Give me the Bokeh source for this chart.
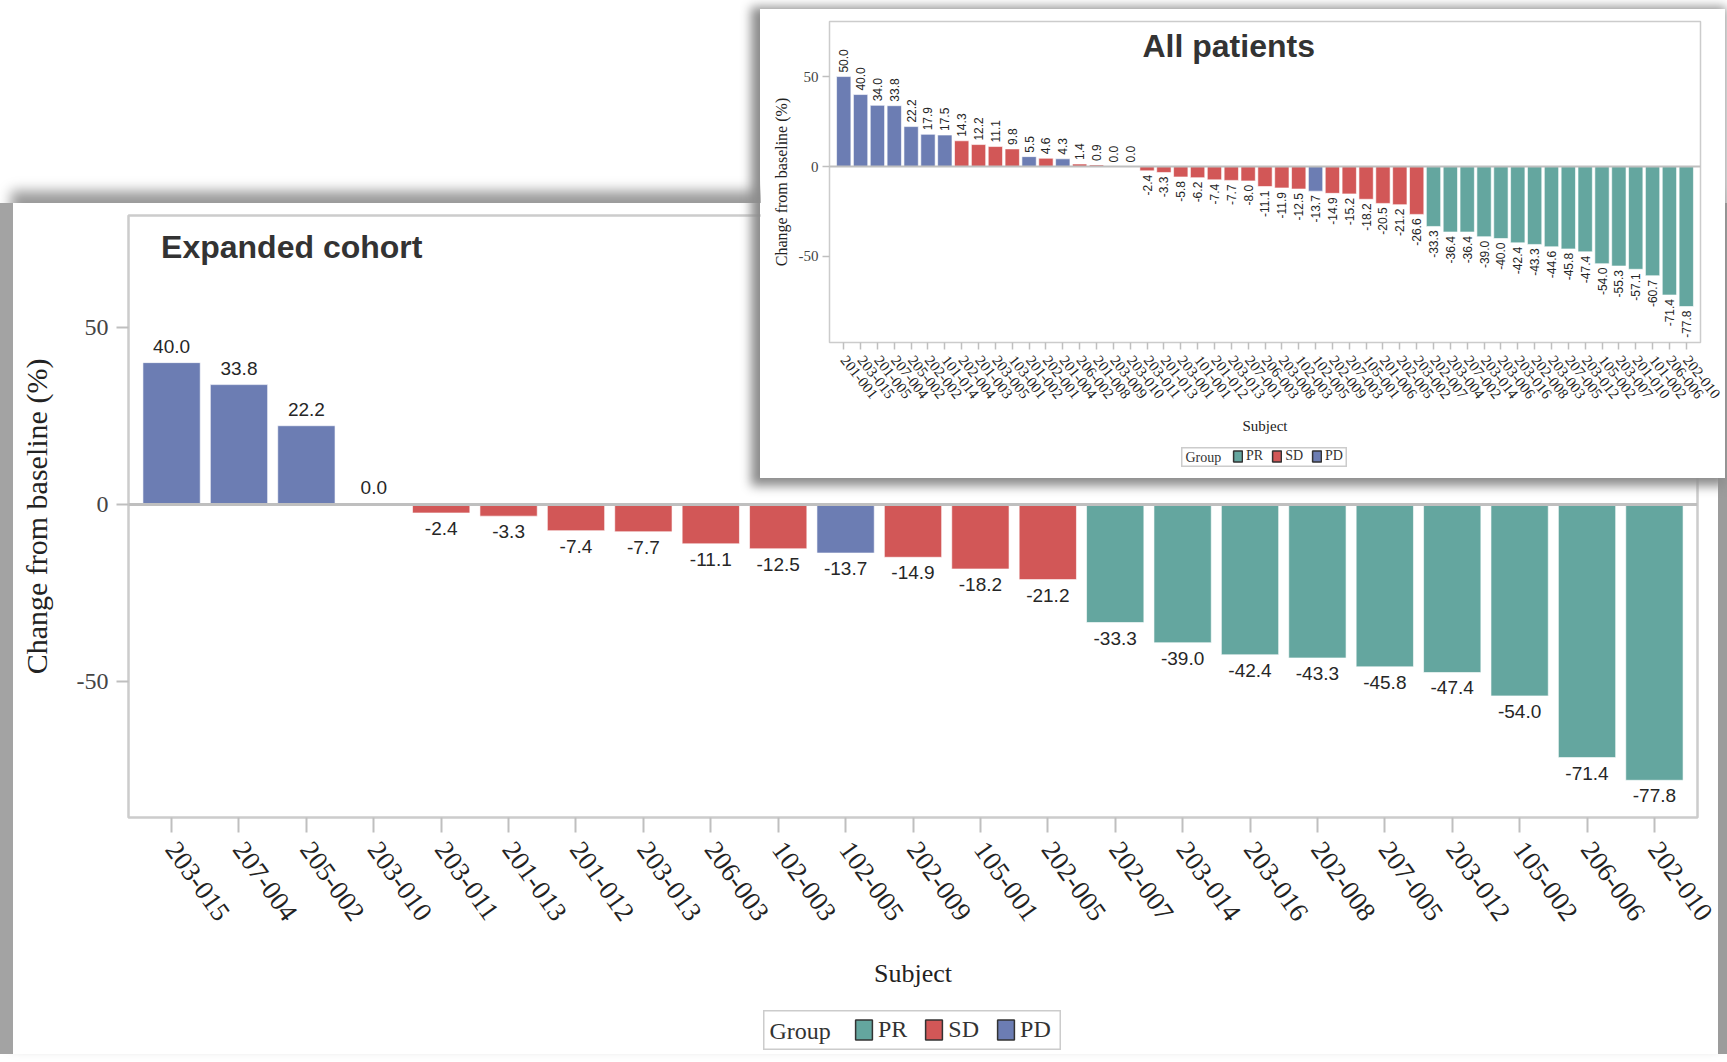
import math
from bokeh.plotting import figure
from bokeh.models import (ColumnDataSource, FactorRange, Range1d, LabelSet, Label,
                          Span, Legend, LegendItem, FixedTicker)
from bokeh.core.properties import value
from bokeh.layouts import column
from bokeh.embed import file_html
from bokeh.resources import INLINE

# ---------------- data ----------------
exp_subjects = ["203-015", "207-004", "205-002", "203-010", "203-011", "201-013", "201-012",
                "203-013", "206-003", "102-003", "102-005", "202-009", "105-001", "202-005",
                "202-007", "203-014", "203-016", "202-008", "207-005", "203-012", "105-002",
                "206-006", "202-010"]
exp_values = [40.0, 33.8, 22.2, 0.0, -2.4, -3.3, -7.4, -7.7, -11.1, -12.5, -13.7, -14.9,
              -18.2, -21.2, -33.3, -39.0, -42.4, -43.3, -45.8, -47.4, -54.0, -71.4, -77.8]
exp_groups = ["PD", "PD", "PD", "SD", "SD", "SD", "SD", "SD", "SD", "SD", "PD", "SD", "SD",
              "SD", "PR", "PR", "PR", "PR", "PR", "PR", "PR", "PR", "PR"]

all_subjects = ["201-001", "203-015", "201-005", "207-004", "205-002", "202-002", "101-014",
                "202-004", "201-003", "203-005", "103-001", "201-002", "202-001", "201-004",
                "206-002", "201-008", "203-009", "203-010", "203-011", "201-013", "203-001",
                "101-001", "201-012", "203-013", "207-001", "206-003", "203-008", "102-003",
                "102-005", "202-009", "207-003", "105-001", "201-006", "202-005", "203-002",
                "202-007", "203-004", "207-002", "203-014", "203-006", "203-016", "202-008",
                "203-003", "207-005", "203-012", "105-002", "203-007", "201-010", "101-002",
                "206-006", "202-010"]
all_values = [50.0, 40.0, 34.0, 33.8, 22.2, 17.9, 17.5, 14.3, 12.2, 11.1, 9.8, 5.5, 4.6, 4.3,
              1.4, 0.9, 0.0, 0.0, -2.4, -3.3, -5.8, -6.2, -7.4, -7.7, -8.0, -11.1, -11.9,
              -12.5, -13.7, -14.9, -15.2, -18.2, -20.5, -21.2, -26.6, -33.3, -36.4, -36.4,
              -39.0, -40.0, -42.4, -43.3, -44.6, -45.8, -47.4, -54.0, -55.3, -57.1, -60.7,
              -71.4, -77.8]
all_groups = ["PD", "PD", "PD", "PD", "PD", "PD", "PD", "SD", "SD", "SD", "SD", "PD", "SD",
              "PD", "SD", "SD", "SD", "SD", "SD", "SD", "SD", "SD", "SD", "SD", "SD", "SD",
              "SD", "SD", "PD", "SD", "SD", "SD", "SD", "SD", "SD", "PR", "PR", "PR", "PR",
              "PR", "PR", "PR", "PR", "PR", "PR", "PR", "PR", "PR", "PR", "PR", "PR"]

y_ticks = [-50, 0, 50]
y_tick_labels = {-50: "-50", 0: "0", 50: "50"}
legend_title = "Group"
legend_groups = ["PR", "SD", "PD"]
COLORS = {"PR": "#64A69F", "SD": "#D25757", "PD": "#6C7DB3"}

SERIF = "Liberation Serif"
SANS = "Liberation Sans"


def no_align(p):
    if "frame_align" in p.properties():
        p.frame_align = False


def build(subjects, values, groups, title, y_lo, y_hi, pad, w, h, mb, s):
    p = figure(x_range=FactorRange(factors=subjects, range_padding=pad),
               y_range=Range1d(y_lo, y_hi), width=w, height=h,
               output_backend="svg", toolbar_location=None, title=None,
               min_border_left=mb[0], min_border_right=mb[1],
               min_border_top=mb[2], min_border_bottom=mb[3])
    no_align(p)
    p.background_fill_color = "white"
    p.border_fill_color = "white"
    p.xgrid.visible = False
    p.ygrid.visible = False
    p.outline_line_color = "#cccccc"
    p.outline_line_width = s["outline"]

    src = ColumnDataSource(dict(subject=subjects, value=values,
                                color=[COLORS[g] for g in groups]))
    p.vbar(x="subject", top="value", bottom=0, width=0.85, fill_color="color",
           line_color="white", line_alpha=0.6, line_width=1, source=src)
    p.add_layout(Span(location=0, dimension="width", line_color="#bfbfbf",
                      line_width=s["zero"]))

    pos = [(sj, v) for sj, v in zip(subjects, values) if v >= 0]
    neg = [(sj, v) for sj, v in zip(subjects, values) if v < 0]
    psrc = ColumnDataSource(dict(subject=[a for a, _ in pos], value=[b for _, b in pos],
                                 label=[f"{b:.1f}" for _, b in pos]))
    nsrc = ColumnDataSource(dict(subject=[a for a, _ in neg], value=[b for _, b in neg],
                                 label=[f"{b:.1f}" for _, b in neg]))
    common = dict(x="subject", y="value", text="label", text_font=value(SANS),
                  text_font_size=value(s["bar_fs"]), text_color="#262626")
    if s["vertical"]:
        p.add_layout(LabelSet(source=psrc, angle=math.pi / 2, text_align="left",
                              text_baseline="middle", y_offset=s["pos_off"], **common))
        p.add_layout(LabelSet(source=nsrc, angle=math.pi / 2, text_align="right",
                              text_baseline="middle", y_offset=s["neg_off"], **common))
    else:
        p.add_layout(LabelSet(source=psrc, text_align="center", text_baseline="bottom",
                              y_offset=s["pos_off"], **common))
        p.add_layout(LabelSet(source=nsrc, text_align="center", text_baseline="top",
                              y_offset=s["neg_off"], **common))

    p.add_layout(Label(x=s["title_x"], y=s["title_y"], text=title, text_font=SANS,
                       text_font_style="bold", text_font_size=s["title_fs"],
                       text_color="#333333", text_baseline="alphabetic"))

    # y axis
    ya = p.yaxis[0]
    ya.ticker = FixedTicker(ticks=y_ticks)
    ya.major_label_overrides = y_tick_labels
    ya.axis_line_color = None
    ya.major_tick_out = s["ytick"]
    ya.major_tick_in = 0
    ya.minor_tick_out = 0
    ya.minor_tick_in = 0
    ya.major_tick_line_color = "#bfbfbf"
    ya.major_tick_line_width = s["tickw"]
    ya.major_label_standoff = s["ylab_standoff"]
    ya.major_label_text_font = SERIF
    ya.major_label_text_font_size = s["ytick_fs"]
    ya.major_label_text_color = "#444444"
    ya.axis_label = "Change from baseline (%)"
    ya.axis_label_text_font = SERIF
    ya.axis_label_text_font_style = "normal"
    ya.axis_label_text_font_size = s["ytitle_fs"]
    ya.axis_label_text_color = "#222222"
    ya.axis_label_standoff = s["ytitle_standoff"]

    # x axis
    xa = p.xaxis[0]
    xa.axis_line_color = None
    xa.major_tick_out = s["xtick"]
    xa.major_tick_in = 0
    xa.major_tick_line_color = "#bfbfbf"
    xa.major_tick_line_width = s["tickw"]
    xa.major_label_orientation = s["xangle"]
    xa.major_label_standoff = s["xlab_standoff"]
    xa.major_label_text_font = SERIF
    xa.major_label_text_font_size = s["xtick_fs"]
    xa.major_label_text_color = "#222222"
    xa.axis_label = "Subject"
    xa.axis_label_text_font = SERIF
    xa.axis_label_text_font_style = "normal"
    xa.axis_label_text_font_size = s["xtitle_fs"]
    xa.axis_label_text_color = "#222222"
    xa.axis_label_standoff = s["xtitle_standoff"]
    return p


def build_legend(values, groups, w, h, s):
    lf = figure(width=w, height=h, x_range=Range1d(0, w), y_range=Range1d(0, h),
                output_backend="svg", toolbar_location=None, title=None,
                x_axis_type=None, y_axis_type=None,
                min_border_left=0, min_border_right=0, min_border_top=0,
                min_border_bottom=0)
    no_align(lf)
    lf.background_fill_color = "white"
    lf.border_fill_color = "white"
    lf.outline_line_color = "#cccccc"
    lf.outline_line_width = 2
    lf.add_layout(Label(x=s["title_x"], y=h / 2, text=legend_title, text_font=SERIF,
                        text_font_size=s["fs"], text_color="#333333",
                        text_baseline="middle"))
    items = []
    for g in legend_groups:
        gv = [v for v, gg in zip(values, groups) if gg == g]
        r = lf.vbar(x=gv, top=gv, bottom=0, width=1, fill_color=COLORS[g],
                    line_color="#333333", line_width=1.5, visible=False)
        items.append(LegendItem(label=g, renderers=[r]))
    leg = Legend(items=items, orientation="horizontal", location=(s["x"], s["y"]))
    leg.label_text_font = SERIF
    leg.label_text_font_size = s["fs"]
    leg.label_text_color = "#333333"
    leg.glyph_width = s["gw"]
    leg.glyph_height = s["gh"]
    leg.label_standoff = s["standoff"]
    leg.label_width = 0
    leg.spacing = s["spacing"]
    leg.padding = 0
    leg.margin = 0
    leg.border_line_color = None
    leg.background_fill_alpha = 0
    leg.inactive_fill_alpha = 0
    lf.add_layout(leg, "center")
    return lf


main_style = dict(outline=2.5, zero=3, vertical=False, bar_fs="19px", pos_off=10,
                  neg_off=-9, title_x=0.344,
                  title_y=72.5, title_fs="32px", ytick=12, tickw=2, ylab_standoff=8,
                  ytick_fs="24px", ytitle_fs="30px", ytitle_standoff=21, xtick=15,
                  xlab_standoff=12, xtick_fs="27px", xangle=-0.95, xtitle_fs="26px",
                  xtitle_standoff=28)
main = build(exp_subjects, exp_values, exp_groups, "Expanded cohort", -88.3, 81.5, 0.0121,
             1705, 851, (115, 21, 12, 237), main_style)

inset_style = dict(outline=1.5, zero=2, vertical=True, bar_fs="12px", pos_off=4,
                   neg_off=-4, title_x=18.23,
                   title_y=67.0, title_fs="32px", ytick=7, tickw=1.5, ylab_standoff=4,
                   ytick_fs="15px", ytitle_fs="16px", ytitle_standoff=6, xtick=7,
                   xlab_standoff=8, xtick_fs="15px", xangle=-0.9, xtitle_fs="15px",
                   xtitle_standoff=12)
inset = build(all_subjects, all_values, all_groups, "All patients", -97.8, 80.6, 0.0135,
              965, 469, (69, 25, 12, 136), inset_style)

main_leg = build_legend(exp_values, exp_groups, 298, 40,
                        dict(title_x=6, fs="24px", x=90, y=7.5, gw=21, gh=25,
                             standoff=4, spacing=16))
inset_leg = build_legend(all_values, all_groups, 166, 20,
                         dict(title_x=4, fs="14px", x=51, y=3, gw=11, gh=14,
                              standoff=3, spacing=8))

# placement on the page (stacked column, pulled into place with margins)
main.margin = (203, 0, 0, 13)
main.styles = {"box-shadow": "-13px 0px 0px 0px #a3a3a3, 9px 0px 0px 0px #9c9c9c, "
                             "0px -10px 12px 2px #9a9a9a"}
inset.margin = (-1045, 0, 0, 760)
inset.styles = {"box-shadow": "-4px 3px 10px 5px #8c8c8c"}
main_leg.margin = (532, 0, 0, 763)
inset_leg.margin = (-603, 0, 0, 1181)

root = column(main, inset, main_leg, inset_leg)

open("out.html", "w").write(file_html(root, INLINE))
